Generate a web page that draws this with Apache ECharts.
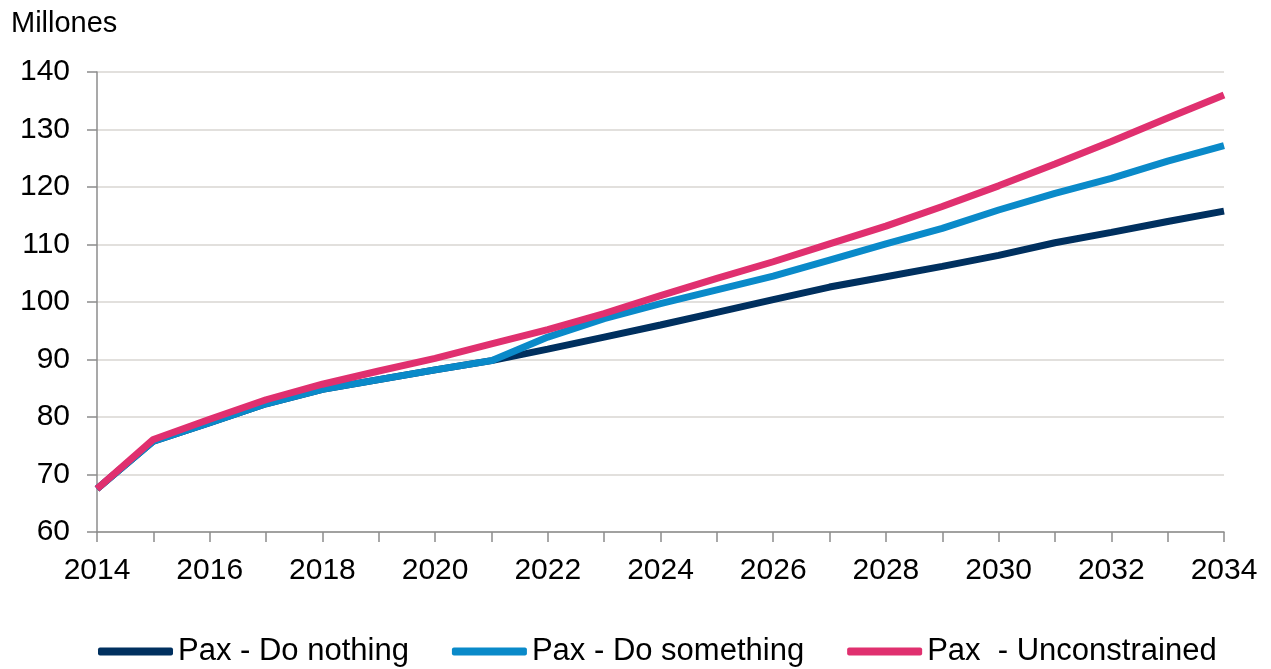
<!DOCTYPE html>
<html>
<head>
<meta charset="utf-8">
<script src="https://cdn.jsdelivr.net/npm/echarts@6/dist/echarts.min.js"></script>
<style>html,body{margin:0;padding:0;background:#fff}#c{width:1271px;height:669px}</style>
</head>
<body>
<div id="c"></div>
<script>
const years = ['2014','2015','2016','2017','2018','2019','2020','2021','2022','2023','2024','2025','2026','2027','2028','2029','2030','2031','2032','2033','2034'];
const doNothing = [67.5,75.8,79.0,82.3,84.8,86.5,88.2,89.8,91.8,93.9,96.0,98.2,100.4,102.6,104.4,106.2,108.1,110.3,112.1,114.0,115.8];
const doSomething = [67.5,75.8,79.0,82.3,84.8,86.5,88.2,89.8,93.9,97.1,99.7,102.1,104.5,107.3,110.1,112.8,116.0,118.9,121.5,124.5,127.2];
const unconstrained = [67.5,76.1,79.6,83.0,85.7,88.0,90.2,92.7,95.2,98.0,101.1,104.1,107.0,110.1,113.2,116.6,120.2,124.0,127.9,132.0,136.0];
const seriesNames = ['Pax - Do nothing','Pax - Do something','Pax  - Unconstrained'];
const colors = ['#00305f','#0a8ac9','#e0306f'];

const chart = echarts.init(document.getElementById('c'), null, {renderer:'canvas'});
const font = 'Liberation Sans, Arial, sans-serif';
chart.setOption({
  animation:false,
  color: colors,
  grid:{left:97,right:47,top:72,bottom:137,containLabel:false},
  title:{text:'Millones',left:11,top:9,padding:0,textStyle:{fontFamily:font,fontSize:29,fontWeight:'normal',color:'#000'}},
  legend:{
    top:636,left:98,padding:0,
    itemWidth:75,itemHeight:8,itemGap:43,icon:'roundRect',
    textStyle:{fontFamily:font,fontSize:31,color:'#000'},
    data: seriesNames
  },
  xAxis:{
    type:'category',data:years,boundaryGap:false,
    axisLine:{lineStyle:{color:'#8c8c8c',width:1.5}},
    axisTick:{show:true,interval:0,length:10,lineStyle:{color:'#8c8c8c',width:1.5}},
    axisLabel:{interval:1,fontFamily:font,fontSize:30,color:'#000',margin:24},
    splitLine:{show:false}
  },
  yAxis:{
    type:'value',min:60,max:140,interval:10,
    axisLine:{show:true,lineStyle:{color:'#8c8c8c',width:1.5}},
    axisTick:{show:true,length:10,lineStyle:{color:'#8c8c8c',width:1.5}},
    axisLabel:{fontFamily:font,fontSize:30,color:'#000',margin:27},
    splitLine:{lineStyle:{color:'#d9d6d2',width:1.5}}
  },
  series:[
    {name:seriesNames[0],type:'line',data:doNothing,symbol:'none',lineStyle:{width:7,color:colors[0]},itemStyle:{color:colors[0]},z:2},
    {name:seriesNames[1],type:'line',data:doSomething,symbol:'none',lineStyle:{width:7,color:colors[1]},itemStyle:{color:colors[1]},z:3},
    {name:seriesNames[2],type:'line',data:unconstrained,symbol:'none',lineStyle:{width:7,color:colors[2]},itemStyle:{color:colors[2]},z:4}
  ]
});
</script>
</body>
</html>
